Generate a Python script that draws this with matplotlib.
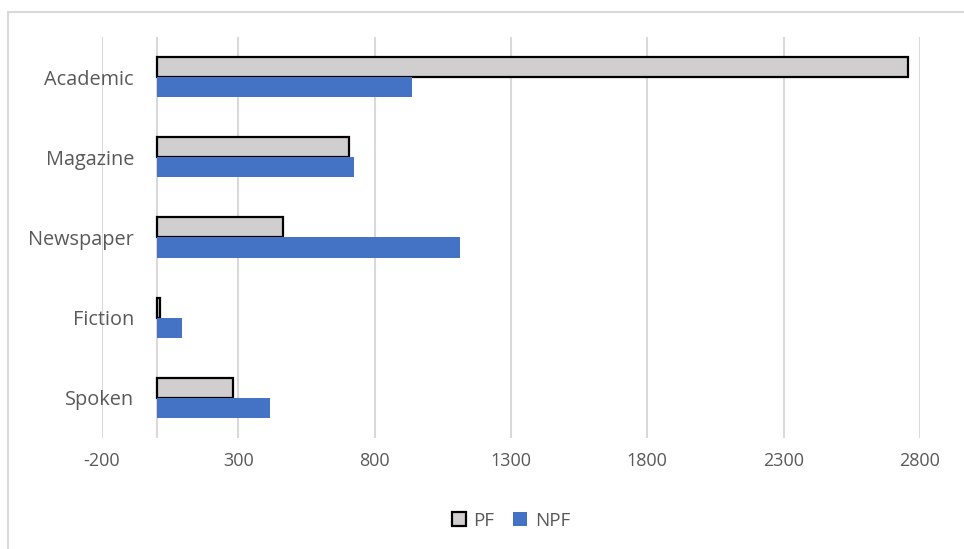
import numpy as np
import matplotlib.pyplot as plt
from matplotlib.patches import Rectangle

# Frequencies per register
categories = ['Academic', 'Magazine', 'Newspaper', 'Fiction', 'Spoken']
pf_values = [2757, 705, 463, 12, 280]
npf_values = [936, 723, 1112, 93, 416]
x_ticks = [-200, 300, 800, 1300, 1800, 2300, 2800]

text_color = '#595959'
grid_color = '#d9d9d9'
plt.rcParams['font.family'] = ['Open Sans', 'DejaVu Sans']

fig = plt.figure(figsize=(9.64, 5.49), dpi=100)
ax = fig.add_axes([0.1058, 0.2022, 0.8485, 0.7304])

# Outer chart border
fig.patches.append(Rectangle((8 / 964, -0.05), 1.1, 1 - 12 / 549 + 0.05,
                             transform=fig.transFigure, fill=False,
                             edgecolor=grid_color, linewidth=1.5))

y = np.arange(len(categories))
h = 0.25
ax.barh(y - h / 2, pf_values, height=h, color='#d0cece', edgecolor='black',
        linewidth=1.6, label='PF', zorder=3)
ax.barh(y + h / 2, npf_values, height=h, color='#4472c4', label='NPF', zorder=3)

ax.set_xlim(-200, 2800)
ax.set_ylim(len(categories) - 0.5, -0.5)
ax.set_xticks(x_ticks)
ax.set_xticklabels([str(v) for v in x_ticks])
ax.set_yticks(y)
ax.set_yticklabels(categories)

# Vertical gridlines plus the category axis at zero
for v in x_ticks:
    ax.axvline(v, color=grid_color, linewidth=1.5, zorder=1)
ax.axvline(0, color=grid_color, linewidth=1.5, zorder=2)

for s in ax.spines.values():
    s.set_visible(False)
ax.tick_params(axis='both', length=0, colors=text_color)
ax.tick_params(axis='x', pad=10, labelsize=13)
# category labels sit just left of the zero line, over the -200 gridline
ax.tick_params(axis='y', pad=-23, labelsize=14.3)

ax.legend(loc='upper center', bbox_to_anchor=(0.5, -0.142), ncol=2, frameon=False,
          fontsize=13.5, labelcolor=text_color, handlelength=0.75, handleheight=0.75,
          columnspacing=1.0, handletextpad=0.4)

fig.savefig('out.png', dpi=100)
